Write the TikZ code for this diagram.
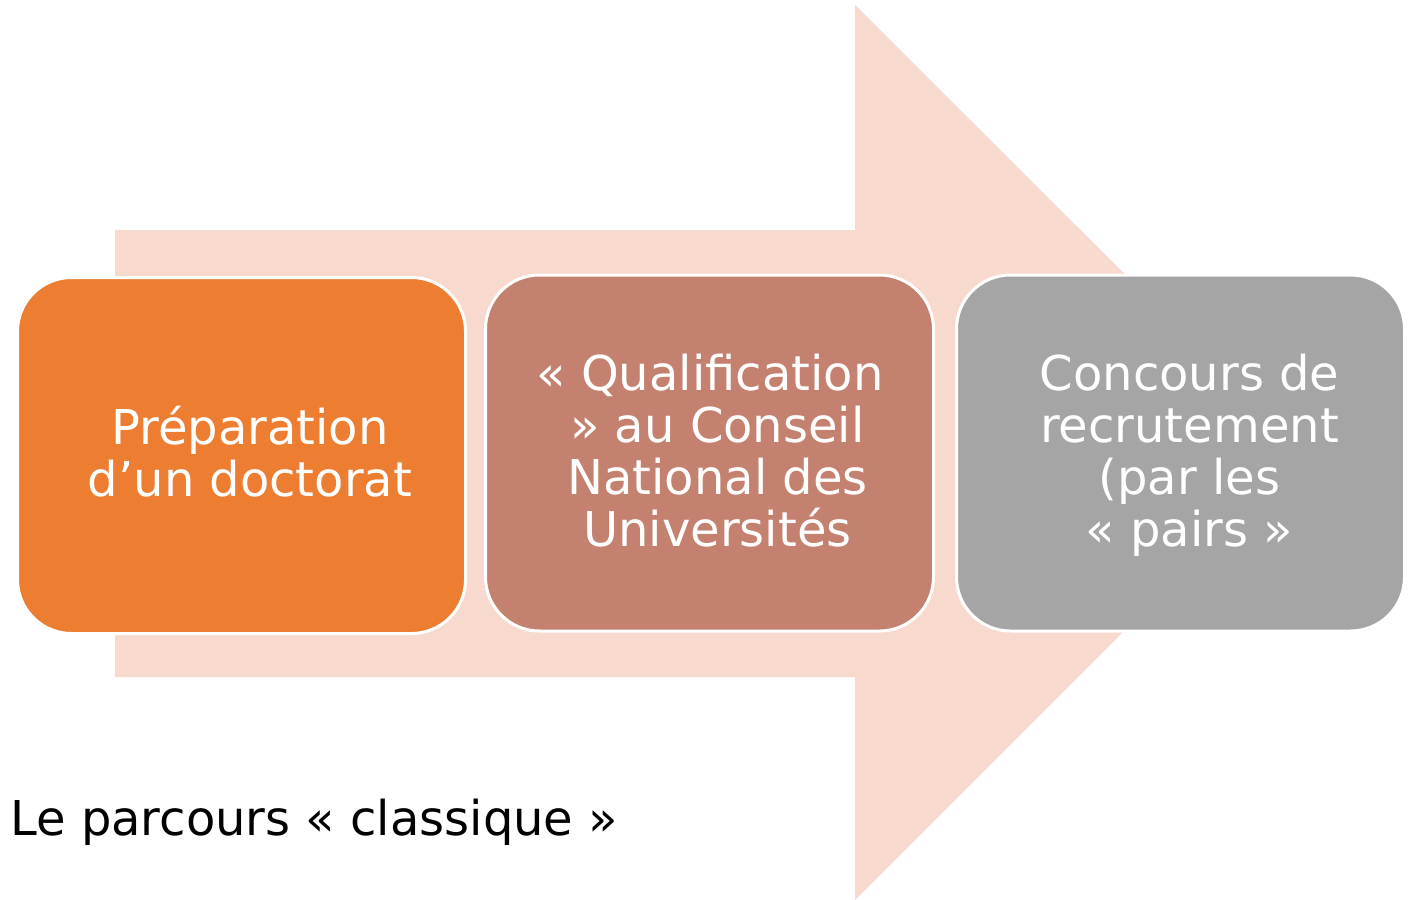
\documentclass[tikz,border=0pt]{standalone}
\usepackage{fontspec}
\setmainfont{DejaVu Sans}
\definecolor{fleche}{HTML}{F7D9CE}
\definecolor{orangeA}{HTML}{ED7D31}
\definecolor{brique}{HTML}{C48170}
\definecolor{grisA}{HTML}{A5A5A5}
\tikzset{
	etape/.style={draw=white,line width=1.5pt,rounded corners=27pt,minimum width=224pt,minimum height=178pt,inner sep=0pt},
	texte/.style={text=white,align=center,inner sep=0pt,font=\fontsize{24}{26}\selectfont}
}
\begin{document}
\begin{tikzpicture}[x=0.5pt,y=-0.5pt]
\useasboundingbox (0,0) rectangle (1409,900);
\fill[fleche] (115,230) -- (855,230) -- (855,5) -- (1303,452) -- (855,900) -- (855,677) -- (115,677) -- cycle;

\path (241.5,455.5) node[etape,fill=orangeA](e1){};
\path (709.5,453) node[etape,fill=brique](e2){};
\path (1180.5,453) node[etape,fill=grisA](e3){};

\path (250,452) node[texte](t1){Préparation\\d’un doctorat};
\path (710,451) node[texte](t2){« Qualification\\\hspace*{7.5pt}» au Conseil\\\hspace*{7.5pt}National des\\\hspace*{7.5pt}Universités};
\path (1189.5,455) node[texte](t3){Concours de\\recrutement\\(par les\\« pairs »};

\path (10,835) node[anchor=base west,inner sep=0pt,font=\fontsize{24}{26}\selectfont](titre){Le parcours « classique »};
\end{tikzpicture}
\end{document}
